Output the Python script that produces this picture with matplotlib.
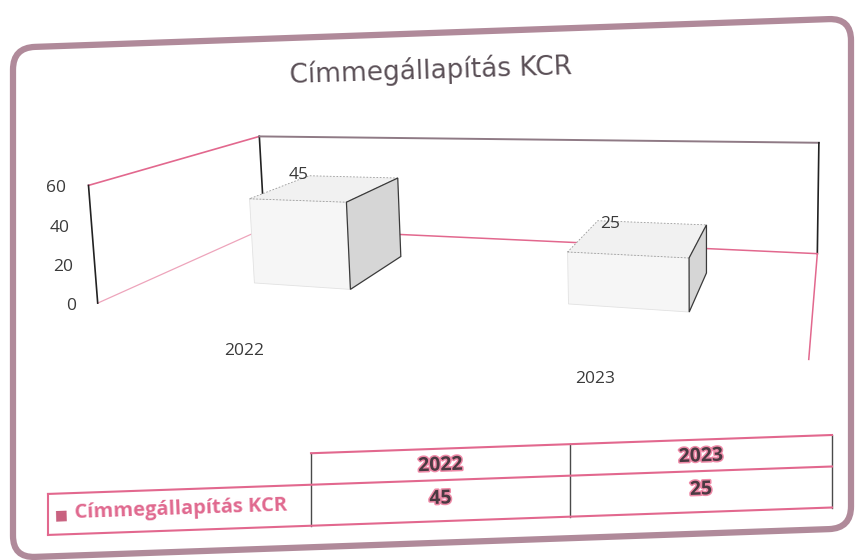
import matplotlib
matplotlib.use('Agg')
import matplotlib.pyplot as plt
from matplotlib.patches import FancyBboxPatch, Polygon
from matplotlib.transforms import Affine2D
import matplotlib.patheffects as pe
import numpy as np

title = "Címmegállapítás KCR"
series_name = "Címmegállapítás KCR"
categories = ["2022", "2023"]
values = [45, 25]
yticks = [0, 20, 40, 60]

PINK = '#e2688e'
TEXT = '#3a3a3a'
W, H = 855, 560

# ---- perspective calibration of the 3-D box (layout only) ----
cal_world = np.array([[0, 0, 0], [0, 0, 1], [0, 1, 1], [0, 1, 0],
                      [2, 1, 1], [2, 1, 0], [2, 0, 0]], float)
cal_img = np.array([[100, 301], [86, 187], [262, 135], [262, 230],
                    [818, 143], [818, 253], [809, 360]], float)
rows = []
for (X, Y, Z), (x, y) in zip(cal_world, cal_img / 100.0):
    rows.append([X, Y, Z, 1, 0, 0, 0, 0, -x * X, -x * Y, -x * Z, -x])
    rows.append([0, 0, 0, 0, X, Y, Z, 1, -y * X, -y * Y, -y * Z, -y])
_, _, vt = np.linalg.svd(np.array(rows))
Pm = vt[-1].reshape(3, 4)
zmax = yticks[-1]


def proj(u, d, z):
    v = Pm @ np.array([u, d, z / zmax, 1.0])
    return v[0] / v[2] * 100.0, v[1] / v[2] * 100.0


fig = plt.figure(figsize=(W / 100, H / 100), dpi=100)
fig.patch.set_facecolor('white')
ax = fig.add_axes([0, 0, 1, 1])
ax.set_xlim(0, W)
ax.set_ylim(H, 0)
ax.set_axis_off()

# slight page skew of the photographed card
k, cx = 0.035, 432.0
skew = Affine2D(np.array([[1, 0, 0], [-k, 1, k * cx], [0, 0, 1]])) + ax.transData
ang = np.degrees(np.arctan(k))

border = FancyBboxPatch((13, 33), 838, 510,
                        boxstyle="round,pad=0,rounding_size=22",
                        fill=False, ec='#b08a9a', lw=4.5, transform=skew)
ax.add_patch(border)

ax.text(431, 71, title, ha='center', va='center', fontsize=19,
        color='#5a4f56', family='DejaVu Sans', rotation=ang * 0.9)

ncat = len(categories)


def line(p, q, **kw):
    a, b = proj(*p), proj(*q)
    ax.plot([a[0], b[0]], [a[1], b[1]], **kw)


# walls / floor outline
line((0, 0, zmax), (0, 1, zmax), color=PINK, lw=1.2, zorder=2)
line((0, 0, 0), (0, 1, 0), color=PINK, lw=0.9, alpha=0.6, zorder=2)
line((0, 0, 0), (0, 0, zmax), color='#222222', lw=1.2, zorder=2)
line((0, 1, 0), (0, 1, zmax), color='#222222', lw=1.2, zorder=2)
line((0, 1, zmax), (ncat, 1, zmax), color='#8f7a85', lw=1.4, zorder=2)
line((ncat, 1, 0), (ncat, 1, zmax), color='#222222', lw=1.2, zorder=2)
line((0, 1, 0), (ncat, 1, 0), color=PINK, lw=1.1, zorder=2)
line((ncat, 1, 0), (ncat, 0, 0), color=PINK, lw=1.1, zorder=2)

# bars
bu0, bu1, bd0, bd1 = 0.36, 0.69, 0.3, 0.7
for i, v in enumerate(values):
    u0, u1 = i + bu0, i + bu1
    front = [proj(u0, bd0, 0), proj(u1, bd0, 0), proj(u1, bd0, v), proj(u0, bd0, v)]
    top = [proj(u0, bd0, v), proj(u1, bd0, v), proj(u1, bd1, v), proj(u0, bd1, v)]
    side = [proj(u1, bd0, 0), proj(u1, bd1, 0), proj(u1, bd1, v), proj(u1, bd0, v)]
    ax.add_patch(Polygon(front, closed=True, fc='#f6f6f6', ec='#e2e2e2', lw=0.6, zorder=3))
    ax.add_patch(Polygon(top, closed=True, fc='#f1f1f1', ec='#9a9a9a', lw=0.6,
                         ls=(0, (2, 2)), zorder=3))
    ax.add_patch(Polygon(side, closed=True, fc='#d6d6d6', ec='#3a3a3a', lw=0.9, zorder=3))
    lx, ly = proj(i + 0.5, 0.5, v)
    ax.text(lx - 21, ly - 13, str(v), fontsize=12.5, color=TEXT,
            family='Open Sans', ha='center', va='center', zorder=5)

for t in yticks:
    px, py = proj(0, 0, t)
    ax.text(px - 22, py + 3, str(t), fontsize=12.5, color=TEXT,
            family='Open Sans', ha='right', va='center')

for i, c in enumerate(categories):
    px, py = proj(i + 0.5, 0, 0)
    ax.text(px, py + 36, c, fontsize=12.5, color=TEXT,
            family='Open Sans', ha='center', va='center')

# data table (drawn on the same skewed card)
col_x = [48, 311, 570, 832]
row_y = [449, 480.5, 521.5]
tl = dict(color=PINK, lw=1.5, transform=skew, zorder=4)
ax.plot([col_x[1], col_x[3]], [row_y[0], row_y[0]], **tl)
ax.plot([col_x[0], col_x[3]], [row_y[1], row_y[1]], **tl)
ax.plot([col_x[0], col_x[3]], [row_y[2], row_y[2]], **tl)
ax.plot([col_x[0], col_x[0]], [row_y[1], row_y[2]], **tl)
for xc in col_x[1:]:
    ax.plot([xc, xc], [row_y[0], row_y[2]], color='#4a4a4a', lw=1.0,
            transform=skew, zorder=3)

halo = [pe.withStroke(linewidth=2.2, foreground='#ef8aa8')]
for j, c in enumerate(categories):
    xm = (col_x[j + 1] + col_x[j + 2]) / 2
    ax.text(xm, (row_y[0] + row_y[1]) / 2 + 1, c, transform=skew, rotation=ang,
            rotation_mode='anchor', ha='center', va='center', fontsize=14,
            fontweight='bold', family='Open Sans', color='#4a3a42',
            path_effects=halo, zorder=5)
for j, v in enumerate(values):
    xm = (col_x[j + 1] + col_x[j + 2]) / 2
    ax.text(xm, (row_y[1] + row_y[2]) / 2 - 2, str(v), transform=skew,
            rotation=ang, rotation_mode='anchor', ha='center', va='center',
            fontsize=14, fontweight='bold', family='Open Sans',
            color='#4a3a42', path_effects=halo, zorder=5)
ax.text(col_x[0] + 7, (row_y[1] + row_y[2]) / 2 + 1, '■', transform=skew,
        rotation=ang, rotation_mode='anchor', ha='left', va='center',
        fontsize=10, color='#c8607e', family='DejaVu Sans', zorder=5)
ax.text(col_x[0] + 27, (row_y[1] + row_y[2]) / 2, series_name, transform=skew,
        rotation=ang, rotation_mode='anchor', ha='left', va='center',
        fontsize=14.5, fontweight='bold', family='Open Sans', color='#e0698f',
        zorder=5)

fig.savefig('out.png', dpi=100, facecolor='white')
